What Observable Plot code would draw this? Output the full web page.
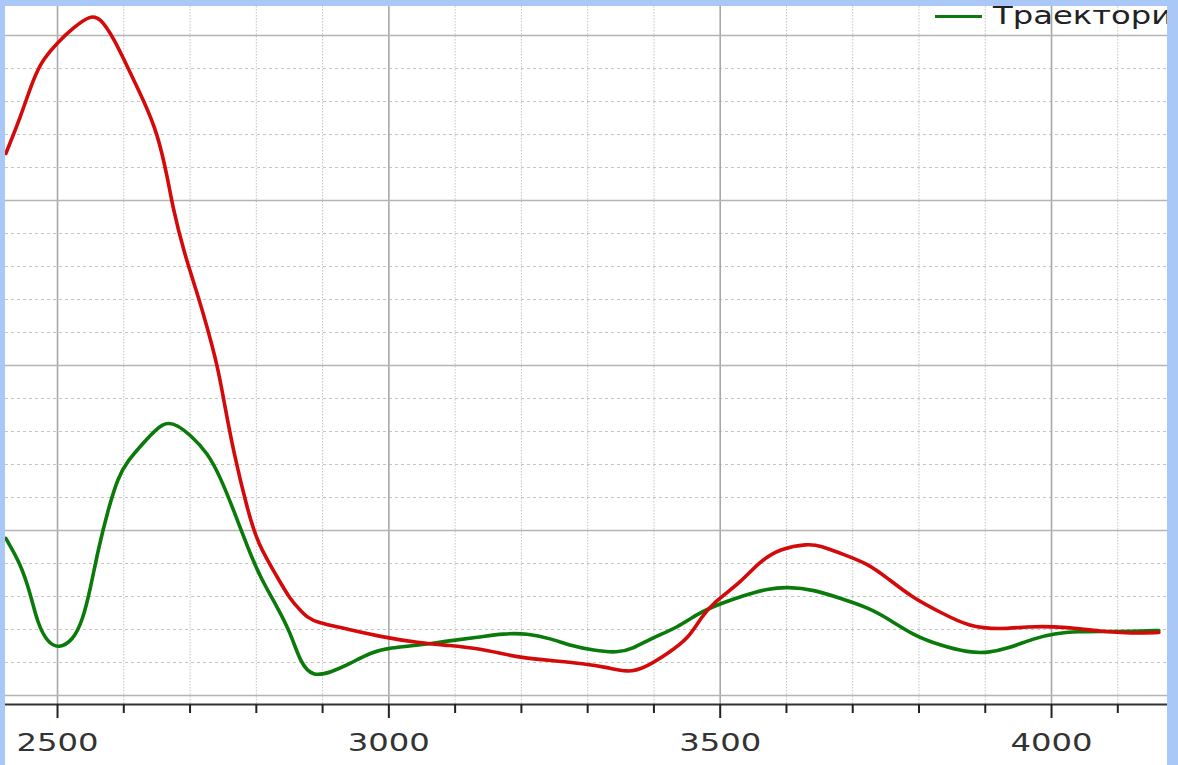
<!DOCTYPE html>
<html>
<head>
<meta charset="utf-8">
<script src="https://cdn.jsdelivr.net/npm/d3@7"></script>
<script src="https://cdn.jsdelivr.net/npm/@observablehq/plot@0.6"></script>
<style>
  html, body { margin: 0; padding: 0; }
  body { background: #a9c8f8; width: 1178px; height: 765px; overflow: hidden; position: relative; font-family: "DejaVu Sans", sans-serif; }
  #wrap { position: absolute; left: 5px; top: 6px; width: 1162px; height: 759px; background: #fff; overflow: hidden; }
  #legend { position: absolute; left: 930px; top: 0px; height: 24px; white-space: nowrap; }
  #legend .sw { position: absolute; left: 0; top: 9px; width: 47px; height: 3px; background: #0a7a0a; }
  #legend .lb { position: absolute; left: 58px; top: -5px; font-size: 25px; color: #222; transform: scaleX(1.29); transform-origin: left center; }
</style>
</head>
<body>
<div id="wrap"><div id="legend"><span class="sw"></span><span class="lb">Траектория</span></div></div>
<script>
// Red curve (x = wavenumber, y = intensity in arbitrary units)
const redX = [2422,2444,2464,2479,2500,2524,2550,2565,2585,2606,2630,2651,2666,2674,2690,2711,2726,2742,2751,2766,2787,2802,2832,2852,2867,2877,2892,2927,2992,3043,3093,3134,3169,3199,3244,3294,3330,3360,3385,3421,3452,3471,3490,3531,3561,3591,3632,3652,3682,3723,3753,3792,3833,3874,3923,3964,4003,4044,4074,4120,4162];
const redY = [3.285,3.503,3.745,3.861,3.958,4.048,4.125,4.105,3.982,3.806,3.606,3.406,3.139,2.958,2.697,2.436,2.230,1.988,1.788,1.467,1.121,0.921,0.715,0.576,0.515,0.473,0.442,0.412,0.352,0.321,0.303,0.285,0.255,0.230,0.212,0.194,0.170,0.140,0.164,0.255,0.345,0.473,0.564,0.685,0.818,0.891,0.920,0.908,0.861,0.800,0.709,0.588,0.503,0.418,0.400,0.418,0.418,0.406,0.388,0.376,0.382];
// Green curve ("Траектория")
const greenX = [2422,2444,2459,2470,2485,2502,2523,2538,2550,2562,2576,2591,2606,2630,2660,2681,2701,2726,2746,2766,2787,2806,2832,2852,2867,2885,2912,2942,2972,3003,3043,3093,3134,3173,3209,3244,3274,3309,3345,3369,3395,3436,3466,3501,3535,3572,3602,3641,3682,3723,3753,3792,3833,3874,3904,3934,3973,4003,4044,4074,4120,4162];
const greenY = [0.952,0.800,0.618,0.436,0.321,0.285,0.333,0.455,0.655,0.897,1.121,1.321,1.424,1.533,1.665,1.640,1.576,1.473,1.321,1.121,0.897,0.715,0.533,0.376,0.194,0.115,0.139,0.194,0.261,0.291,0.303,0.333,0.352,0.376,0.376,0.345,0.303,0.273,0.258,0.285,0.345,0.412,0.497,0.558,0.606,0.648,0.658,0.642,0.588,0.533,0.467,0.364,0.303,0.261,0.258,0.285,0.345,0.376,0.388,0.388,0.388,0.394];
// Ticks
const xMajorTicks = [2500, 3000, 3500, 4000];
const xMinorTicks = [2600, 2700, 2800, 2900, 3100, 3200, 3300, 3400, 3600, 3700, 3800, 3900, 4100];
const yMajorTicks = [0, 1, 2, 3, 4];
const yMinorTicks = [0.2,0.4,0.6,0.8,1.2,1.4,1.6,1.8,2.2,2.4,2.6,2.8,3.2,3.4,3.6,3.8,4.2];

const red = redX.map((x, i) => ({x, y: redY[i]}));
const green = greenX.map((x, i) => ({x, y: greenY[i]}));
const yMin = -0.0545, yMax = 4.176;

const chart = Plot.plot({
  width: 1162,
  height: 759,
  marginLeft: 0,
  marginRight: 0,
  marginTop: 0,
  marginBottom: 61,
  style: {background: "#fff", fontFamily: "DejaVu Sans, sans-serif", overflow: "hidden"},
  x: {domain: [2421.5, 4175], axis: null, label: null},
  y: {domain: [yMin, yMax], axis: null, label: null},
  marks: [
    Plot.ruleX(xMinorTicks, {stroke: "#c4c4c4", strokeWidth: 1, strokeDasharray: "1.5,1.5"}),
    Plot.ruleY(yMinorTicks, {stroke: "#c4c4c4", strokeWidth: 1, strokeDasharray: "3,3"}),
    Plot.ruleX(xMajorTicks, {stroke: "#a8a8a8", strokeWidth: 1.6}),
    Plot.ruleY(yMajorTicks, {stroke: "#b4b4b4", strokeWidth: 1.5}),
    Plot.line(green, {x: "x", y: "y", stroke: "#0a7a0a", strokeWidth: 3.6, curve: "basis"}),
    Plot.line(red, {x: "x", y: "y", stroke: "#d40a0a", strokeWidth: 3.6, curve: "basis"}),
    Plot.ruleY([yMin], {stroke: "#333", strokeWidth: 2}),
    Plot.axisX(xMinorTicks, {tickSize: 9, text: null, label: null, stroke: "#222", strokeWidth: 2}),
    Plot.axisX(xMajorTicks, {tickSize: 14, tickPadding: 15, fontSize: 25, label: null, fill: "#333", stroke: "#222", strokeWidth: 2, tickFormat: d => String(d)})
  ]
});
document.getElementById("wrap").prepend(chart);

// horizontally widen the tick labels to match the reference's glyph shapes
d3.select(chart).selectAll("text").each(function() {
  const t = this;
  if (!/^\d+$/.test(t.textContent)) return;
  const tr = t.getAttribute("transform");
  if (tr) t.setAttribute("transform", tr + " scale(1.29,1)");
  else {
    const x = +t.getAttribute("x") || 0;
    t.setAttribute("transform", `translate(${x},0) scale(1.29,1) translate(${-x},0)`);
  }
});
</script>
</body>
</html>
